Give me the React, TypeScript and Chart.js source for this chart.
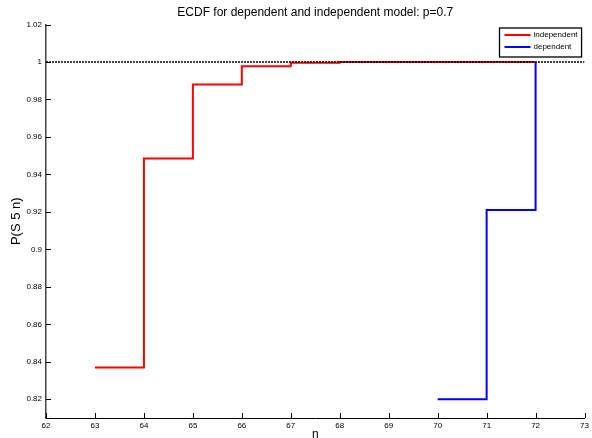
import React, { useEffect, useRef } from "react";
import { Chart, registerables } from "chart.js";

Chart.register(...registerables);

const TITLE = "ECDF for dependent and independent model: p=0.7";
const X_LABEL = "n";
const Y_LABEL = "P(S 5 n)";
const X_TICKS = [62, 63, 64, 65, 66, 67, 68, 69, 70, 71, 72, 73];
const Y_TICKS = [0.82, 0.84, 0.86, 0.88, 0.9, 0.92, 0.94, 0.96, 0.98, 1, 1.02];
const X_MIN = 62;
const X_MAX = 73;
const Y_MIN = 0.81;
const Y_MAX = 1.02;

const SERIES_LABELS = ["independent", "dependent"];
const SERIES_COLORS = ["#ff0000", "#0000ff"];
const INDEP_N = [63, 64, 65, 66, 67, 68, 69, 70, 71, 72];
const INDEP_P = [0.837, 0.9485, 0.988, 0.9977, 0.9996, 0.99995, 1, 1, 1, 1];
const DEP_N = [70, 71, 72];
const DEP_P = [0.82, 0.921, 1];
const REF_N = [62, 73];
const REF_P = [1, 1];

const FONT = "'Liberation Sans', Arial, Helvetica, sans-serif";

const toPoints = (xs: number[], ys: number[]) => xs.map((x, i) => ({ x, y: ys[i] }));

const fmt = (v: number) => String(Number(v.toFixed(2)));

const decorPlugin = {
  id: "decor",
  afterDatasetsDraw(chart: any) {
    const { ctx, chartArea, scales } = chart;
    const xs = scales.x;
    const ys = scales.y;
    ctx.save();
    ctx.strokeStyle = "#000";
    ctx.lineWidth = 1;
    const TL = 5;
    xs.ticks.forEach((t: any) => {
      const px = Math.round(xs.getPixelForValue(t.value)) + 0.5;
      ctx.beginPath();
      ctx.moveTo(px, chartArea.bottom);
      ctx.lineTo(px, chartArea.bottom - TL);
      ctx.stroke();
    });
    ys.ticks.forEach((t: any) => {
      const py = Math.round(ys.getPixelForValue(t.value)) + 0.5;
      ctx.beginPath();
      ctx.moveTo(chartArea.left, py);
      ctx.lineTo(chartArea.left + TL, py);
      ctx.stroke();
    });

    // title centred over the plot area
    ctx.fillStyle = "#000";
    ctx.font = `12px ${FONT}`;
    ctx.textAlign = "center";
    ctx.textBaseline = "middle";
    ctx.fillText(TITLE, (chartArea.left + chartArea.right) / 2, 13);

    // legend box
    ctx.font = `8px ${FONT}`;
    const textW = Math.max(...SERIES_LABELS.map((s) => ctx.measureText(s).width));
    const lineLen = 26;
    const boxW = 5 + lineLen + 3 + textW + 4;
    const rowH = 12;
    const boxH = 4 + rowH * SERIES_LABELS.length + 1;
    const right = chartArea.right - 3;
    const left = right - boxW;
    const top = chartArea.top + 3.5;
    ctx.fillStyle = "#fff";
    ctx.fillRect(left, top, boxW, boxH);
    ctx.strokeStyle = "#000";
    ctx.lineWidth = 1.3;
    ctx.strokeRect(left, top, boxW, boxH);
    SERIES_LABELS.forEach((lab, i) => {
      const cy = top + 7 + i * rowH;
      ctx.strokeStyle = SERIES_COLORS[i];
      ctx.lineWidth = 2;
      ctx.beginPath();
      ctx.moveTo(left + 5, cy);
      ctx.lineTo(left + 5 + lineLen, cy);
      ctx.stroke();
      ctx.fillStyle = "#000";
      ctx.textBaseline = "middle";
      ctx.textAlign = "left";
      ctx.fillText(lab, left + 5 + lineLen + 3, cy);
    });
    ctx.restore();
  },
};

export default function App() {
  const ref = useRef<HTMLCanvasElement | null>(null);
  useEffect(() => {
    document.body.style.margin = "0";
    const canvas = ref.current;
    if (!canvas) return;
    const chart = new Chart(canvas, {
      type: "line",
      data: {
        datasets: [
          {
            label: "ref",
            data: toPoints(REF_N, REF_P),
            borderColor: "#000",
            borderWidth: 1.3,
            borderDash: [2, 1],
            pointRadius: 0,
            fill: false,
            order: 0,
          },
          {
            label: SERIES_LABELS[0],
            data: toPoints(INDEP_N, INDEP_P),
            borderColor: SERIES_COLORS[0],
            borderWidth: 2,
            pointRadius: 0,
            stepped: "before",
            fill: false,
            order: 2,
          },
          {
            label: SERIES_LABELS[1],
            data: toPoints(DEP_N, DEP_P),
            borderColor: SERIES_COLORS[1],
            borderWidth: 2,
            pointRadius: 0,
            stepped: "before",
            fill: false,
            order: 1,
          },
        ],
      },
      options: {
        animation: false,
        responsive: false,
        maintainAspectRatio: false,
        layout: { padding: { left: 0, right: 7, top: 24.5, bottom: 0 } },
        plugins: {
          legend: { display: false },
          tooltip: { enabled: false },
          title: { display: false },
        },
        scales: {
          x: {
            type: "linear",
            min: X_MIN,
            max: X_MAX,
            afterBuildTicks: (s: any) => {
              s.ticks = X_TICKS.map((v) => ({ value: v }));
            },
            afterFit: (s: any) => {
              s.height = 20;
            },
            grid: { display: true, drawOnChartArea: false, drawTicks: false },
            border: { display: true, color: "#000", width: 1 },
            ticks: {
              color: "#000",
              font: { family: FONT, size: 8 },
              padding: 3,
              maxRotation: 0,
              autoSkip: false,
              callback: (v: any) => fmt(Number(v)),
            },
            title: {
              display: true,
              text: X_LABEL,
              color: "#000",
              font: { family: FONT, size: 12 },
              padding: { top: 0, bottom: -4 },
            },
          },
          y: {
            type: "linear",
            min: Y_MIN,
            max: Y_MAX,
            afterBuildTicks: (s: any) => {
              s.ticks = Y_TICKS.map((v) => ({ value: v }));
            },
            afterFit: (s: any) => {
              s.width = 46;
            },
            grid: { display: true, drawOnChartArea: false, drawTicks: false },
            border: { display: true, color: "#444", width: 1.5 },
            ticks: {
              color: "#000",
              font: { family: FONT, size: 8 },
              padding: 4,
              autoSkip: false,
              callback: (v: any) => fmt(Number(v)),
            },
            title: {
              display: true,
              text: Y_LABEL,
              color: "#000",
              font: { family: FONT, size: 13 },
              padding: { top: 9, bottom: 0 },
            },
          },
        },
      },
      plugins: [decorPlugin],
    } as any);
    return () => chart.destroy();
  }, []);
  return (
    <div style={{ width: 592, height: 438 }}>
      <canvas ref={ref} width={592} height={438} style={{ display: "block" }} />
    </div>
  );
}
